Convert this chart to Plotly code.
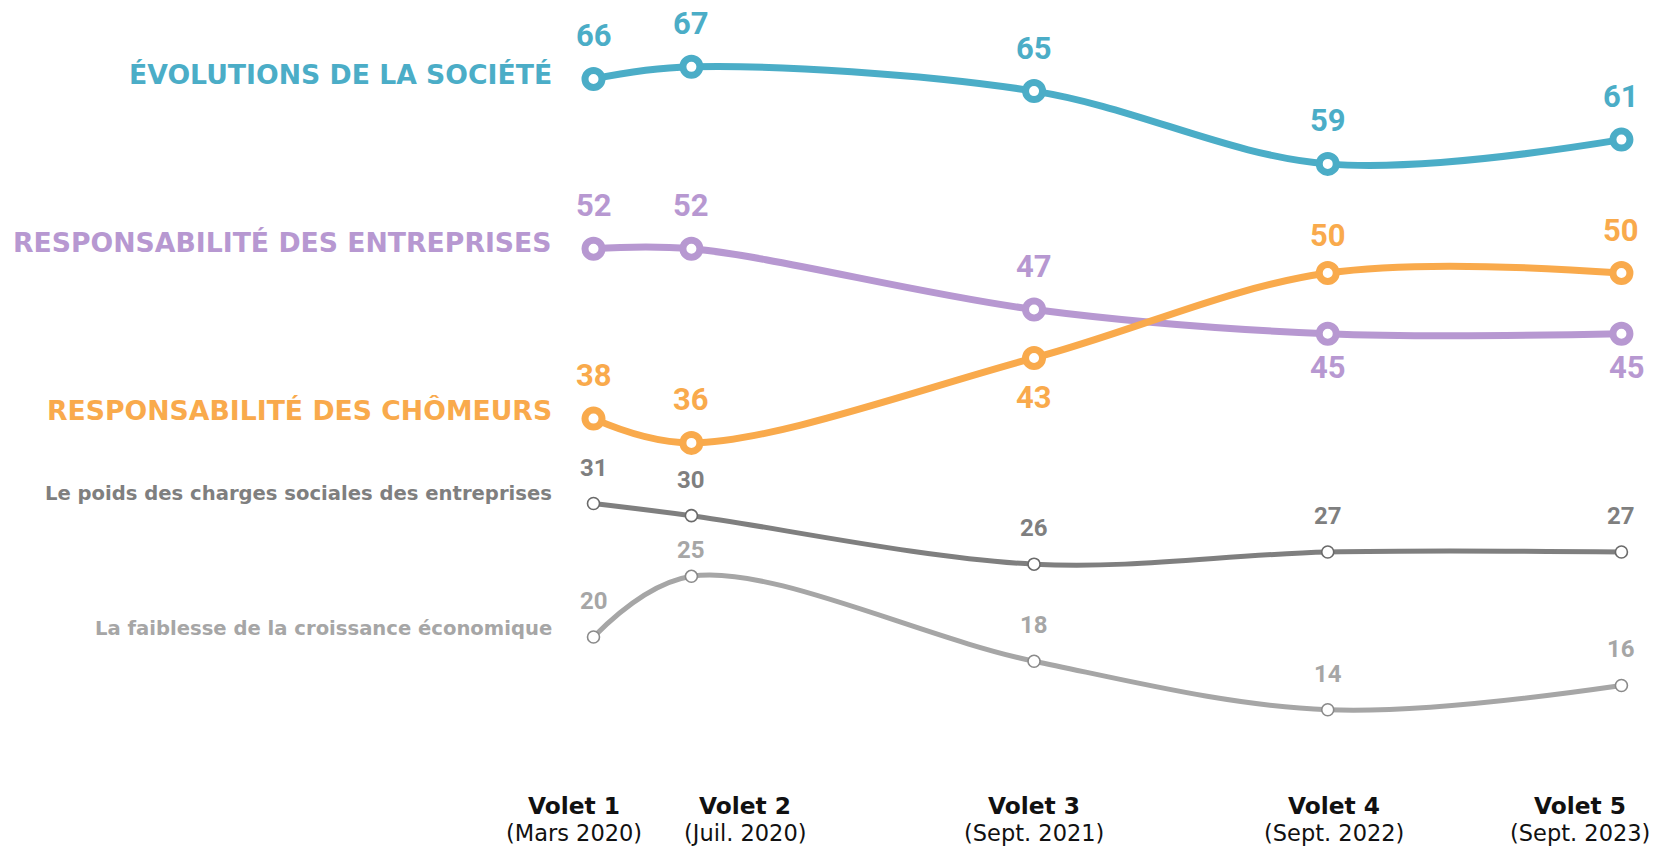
import plotly.graph_objects as go

# ---------------- data ----------------
volets = ["Volet 1", "Volet 2", "Volet 3", "Volet 4", "Volet 5"]
periodes = ["(Mars 2020)", "(Juil. 2020)", "(Sept. 2021)", "(Sept. 2022)", "(Sept. 2023)"]
mois = [0, 4, 18, 30, 42]  # months elapsed since March 2020

evolutions = [66, 67, 65, 59, 61]
entreprises = [52, 52, 47, 45, 45]
chomeurs = [38, 36, 43, 50, 50]
charges = [31, 30, 26, 27, 27]
croissance = [20, 25, 18, 14, 16]

noms = {
    "evolutions": "ÉVOLUTIONS DE LA SOCIÉTÉ",
    "entreprises": "RESPONSABILITÉ DES ENTREPRISES",
    "chomeurs": "RESPONSABILITÉ DES CHÔMEURS",
    "charges": "Le poids des charges sociales des entreprises",
    "croissance": "La faiblesse de la croissance économique",
}
valeurs = {
    "evolutions": evolutions,
    "entreprises": entreprises,
    "chomeurs": chomeurs,
    "charges": charges,
    "croissance": croissance,
}

# ---------------- styles ----------------
styles = {
    "croissance": dict(color="#A6A6A6", edge="#8A8A8A", width=5, msize=12, mline=1.6, main=False, name_dy=8),
    "charges": dict(color="#7F7F7F", edge="#6A6A6A", width=5, msize=12, mline=1.6, main=False, name_dy=10),
    "entreprises": dict(color="#B798D1", edge="#B798D1", width=7, msize=17, mline=7, main=True, name_dy=6),
    "chomeurs": dict(color="#F9AA4C", edge="#F9AA4C", width=7, msize=17, mline=7, main=True, name_dy=8),
    "evolutions": dict(color="#4BADC7", edge="#4BADC7", width=7, msize=17, mline=7, main=True, name_dy=4),
}
# label placement overrides: (series, index) -> (yshift, xshift)
label_override = {
    ("entreprises", 3): (-34, 0),
    ("entreprises", 4): (-34, 6),
    ("chomeurs", 2): (-40, 0),
    ("chomeurs", 3): (38, 0),
    ("croissance", 1): (26, 0),
}
tick_xshift = [-20, 54, 0, 6, -41]

fig = go.Figure()
annotations = []

for key in ["croissance", "charges", "entreprises", "chomeurs", "evolutions"]:
    st = styles[key]
    vals = valeurs[key]
    fig.add_trace(go.Scatter(
        x=mois, y=vals, mode="lines+markers",
        line=dict(color=st["color"], width=st["width"], shape="spline", smoothing=1.0),
        marker=dict(symbol="circle", size=st["msize"], color="white",
                    line=dict(color=st["edge"], width=st["mline"])),
        hoverinfo="skip", cliponaxis=False,
    ))
    for i, v in enumerate(vals):
        ys, xs = label_override.get((key, i), (43 if st["main"] else 36, 0))
        annotations.append(dict(
            x=mois[i], y=v, xref="x", yref="y", text=str(v), showarrow=False,
            xanchor="center", yanchor="middle", yshift=ys, xshift=xs,
            font=dict(family="Roboto", size=31 if st["main"] else 24,
                      color=st["color"], weight="bold"),
        ))
    annotations.append(dict(
        x=mois[0], y=vals[0], xref="x", yref="y", text=noms[key], showarrow=False,
        xanchor="right", yanchor="middle", xshift=-40, yshift=st["name_dy"],
        font=dict(family="DejaVu Sans", size=26.7 if st["main"] else 19.6,
                  color=st["color"], weight="bold"),
    ))

for i in range(len(volets)):
    annotations.append(dict(
        x=mois[i], y=0.0518, xref="x", yref="paper", text=volets[i], showarrow=False,
        xanchor="center", yanchor="middle", xshift=tick_xshift[i],
        font=dict(family="DejaVu Sans", size=23.3, color="#111111", weight="bold"),
    ))
    annotations.append(dict(
        x=mois[i], y=0.0188, xref="x", yref="paper", text=periodes[i], showarrow=False,
        xanchor="center", yanchor="middle", xshift=tick_xshift[i],
        font=dict(family="DejaVu Sans", size=22.5, color="#111111"),
    ))

fig.update_layout(
    width=1653, height=849,
    margin=dict(l=0, r=0, t=0, b=0),
    paper_bgcolor="white", plot_bgcolor="white",
    showlegend=False,
    xaxis=dict(range=[-24.25, 43.29], visible=False, fixedrange=True),
    yaxis=dict(range=[2.52, 72.51], visible=False, fixedrange=True),
    annotations=annotations,
)

fig.write_html(
    "out.html",
    config={"displayModeBar": False, "staticPlot": True},
    post_script="document.body.style.margin='0';document.body.style.overflow='hidden';",
)
